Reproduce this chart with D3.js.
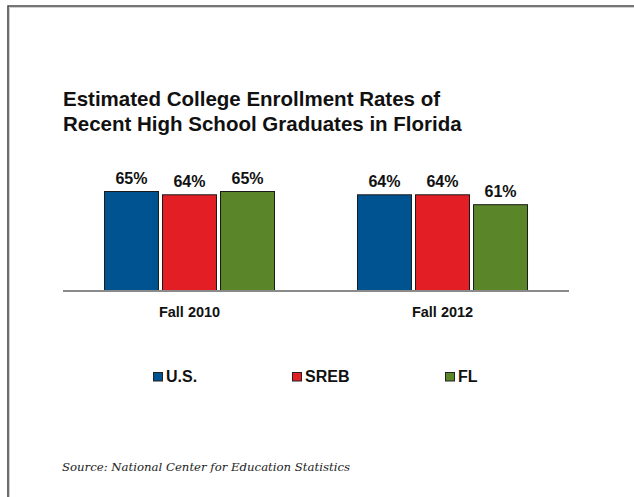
<!DOCTYPE html>
<html>
<head>
<meta charset="utf-8">
<script src="https://cdn.jsdelivr.net/npm/d3@7"></script>
<style>
  html, body { margin: 0; padding: 0; background: #fff; }
  svg { display: block; }
</style>
</head>
<body>
<script>
const titleLines = ["Estimated College Enrollment Rates of", "Recent High School Graduates in Florida"];
const categories = ["Fall 2010", "Fall 2012"];
const seriesNames = ["U.S.", "SREB", "FL"];
const seriesColors = ["#005391", "#e31e25", "#5a8529"];
const usValues = [65, 64];
const srebValues = [64, 64];
const flValues = [65, 61];
const valueLabels = [["65%", "64%", "65%"], ["64%", "64%", "61%"]];
const sourceText = "Source: National Center for Education Statistics";

const W = 634, H = 497;
const svg = d3.select("body").append("svg").attr("width", W).attr("height", H);

// frame
svg.append("path").attr("d", `M8,${H} L8,6 L${W},6`).attr("fill", "none")
  .attr("stroke", "#4a4a4a").attr("stroke-width", 1.6);
svg.append("path").attr("d", `M9.5,${H} L9.5,7.5 L${W},7.5`).attr("fill", "none")
  .attr("stroke", "#d0d0d0").attr("stroke-width", 1);

// title
svg.append("text").attr("x", 63).attr("y", 106)
  .attr("font-family", "Liberation Sans, Arial, sans-serif")
  .attr("font-weight", "bold").attr("font-size", 20.5).attr("fill", "#111")
  .selectAll("tspan").data(titleLines).join("tspan")
  .attr("x", 63).attr("dy", (d, i) => i === 0 ? 0 : 25).text(d => d);

const valuesBySeries = [usValues, srebValues, flValues];
const data = categories.map((c, i) => ({
  cat: c,
  vals: seriesNames.map((s, j) => ({ s, j, v: valuesBySeries[j][i], label: valueLabels[i][j] }))
}));

const x0 = d3.scaleBand().domain(categories).range([63, 569]).paddingInner(0.324).paddingOuter(0.162);
const x1 = d3.scaleBand().domain(seriesNames).range([0, x0.bandwidth()]).paddingInner(0.052).paddingOuter(0);
const y = d3.scaleLinear().domain([35, 95]).range([290.5, 92.5]);
const color = d3.scaleOrdinal().domain(seriesNames).range(seriesColors);

const g = svg.append("g");
const groups = g.selectAll("g.grp").data(data).join("g")
  .attr("transform", d => `translate(${x0(d.cat)},0)`);

groups.selectAll("rect").data(d => d.vals).join("rect")
  .attr("x", d => x1(d.s) + 0.5)
  .attr("y", d => y(d.v))
  .attr("width", x1.bandwidth() - 1)
  .attr("height", d => y(35) - y(d.v))
  .attr("fill", d => color(d.s))
  .attr("stroke", "#1a1a1a").attr("stroke-width", 1);

groups.selectAll("text.val").data(d => d.vals).join("text")
  .attr("class", "val")
  .attr("x", d => x1(d.s) + x1.bandwidth() / 2)
  .attr("y", d => y(d.v) - 7.5)
  .attr("text-anchor", "middle")
  .attr("font-family", "Liberation Sans, Arial, sans-serif")
  .attr("font-weight", "bold").attr("font-size", 16).attr("fill", "#111")
  .text(d => d.label);

// baseline
svg.append("line").attr("x1", 63).attr("x2", 569).attr("y1", y(35) + 0.5).attr("y2", y(35) + 0.5)
  .attr("stroke", "#8a8a8a").attr("stroke-width", 2);

// category axis
const xAxis = d3.axisBottom(x0).tickSize(0).tickPadding(0);
const ax = svg.append("g").attr("transform", `translate(0,${y(35)})`).call(xAxis);
ax.select(".domain").remove();
ax.selectAll("text")
  .attr("dy", null).attr("y", 26)
  .attr("font-family", "Liberation Sans, Arial, sans-serif")
  .attr("font-weight", "bold").attr("font-size", 14.5).attr("fill", "#111");

// legend
const legendX = [153, 292, 445];
const lg = svg.append("g").selectAll("g").data(seriesNames).join("g")
  .attr("transform", (d, i) => `translate(${legendX[i]},0)`);
lg.append("rect").attr("x", 0.5).attr("y", 372.5).attr("width", 9).attr("height", 8.5)
  .attr("fill", d => color(d)).attr("stroke", "#222").attr("stroke-width", 1);
lg.append("text").attr("x", 13).attr("y", 382)
  .attr("font-family", "Liberation Sans, Arial, sans-serif")
  .attr("font-weight", "bold").attr("font-size", 16).attr("fill", "#111")
  .text(d => d);

// source
svg.append("text").attr("x", 62).attr("y", 471)
  .attr("font-family", "DejaVu Serif, Georgia, serif")
  .attr("font-style", "italic").attr("font-size", 11.5).attr("fill", "#222")
  .attr("textLength", 288).attr("lengthAdjust", "spacingAndGlyphs")
  .text(sourceText);
</script>
</body>
</html>
